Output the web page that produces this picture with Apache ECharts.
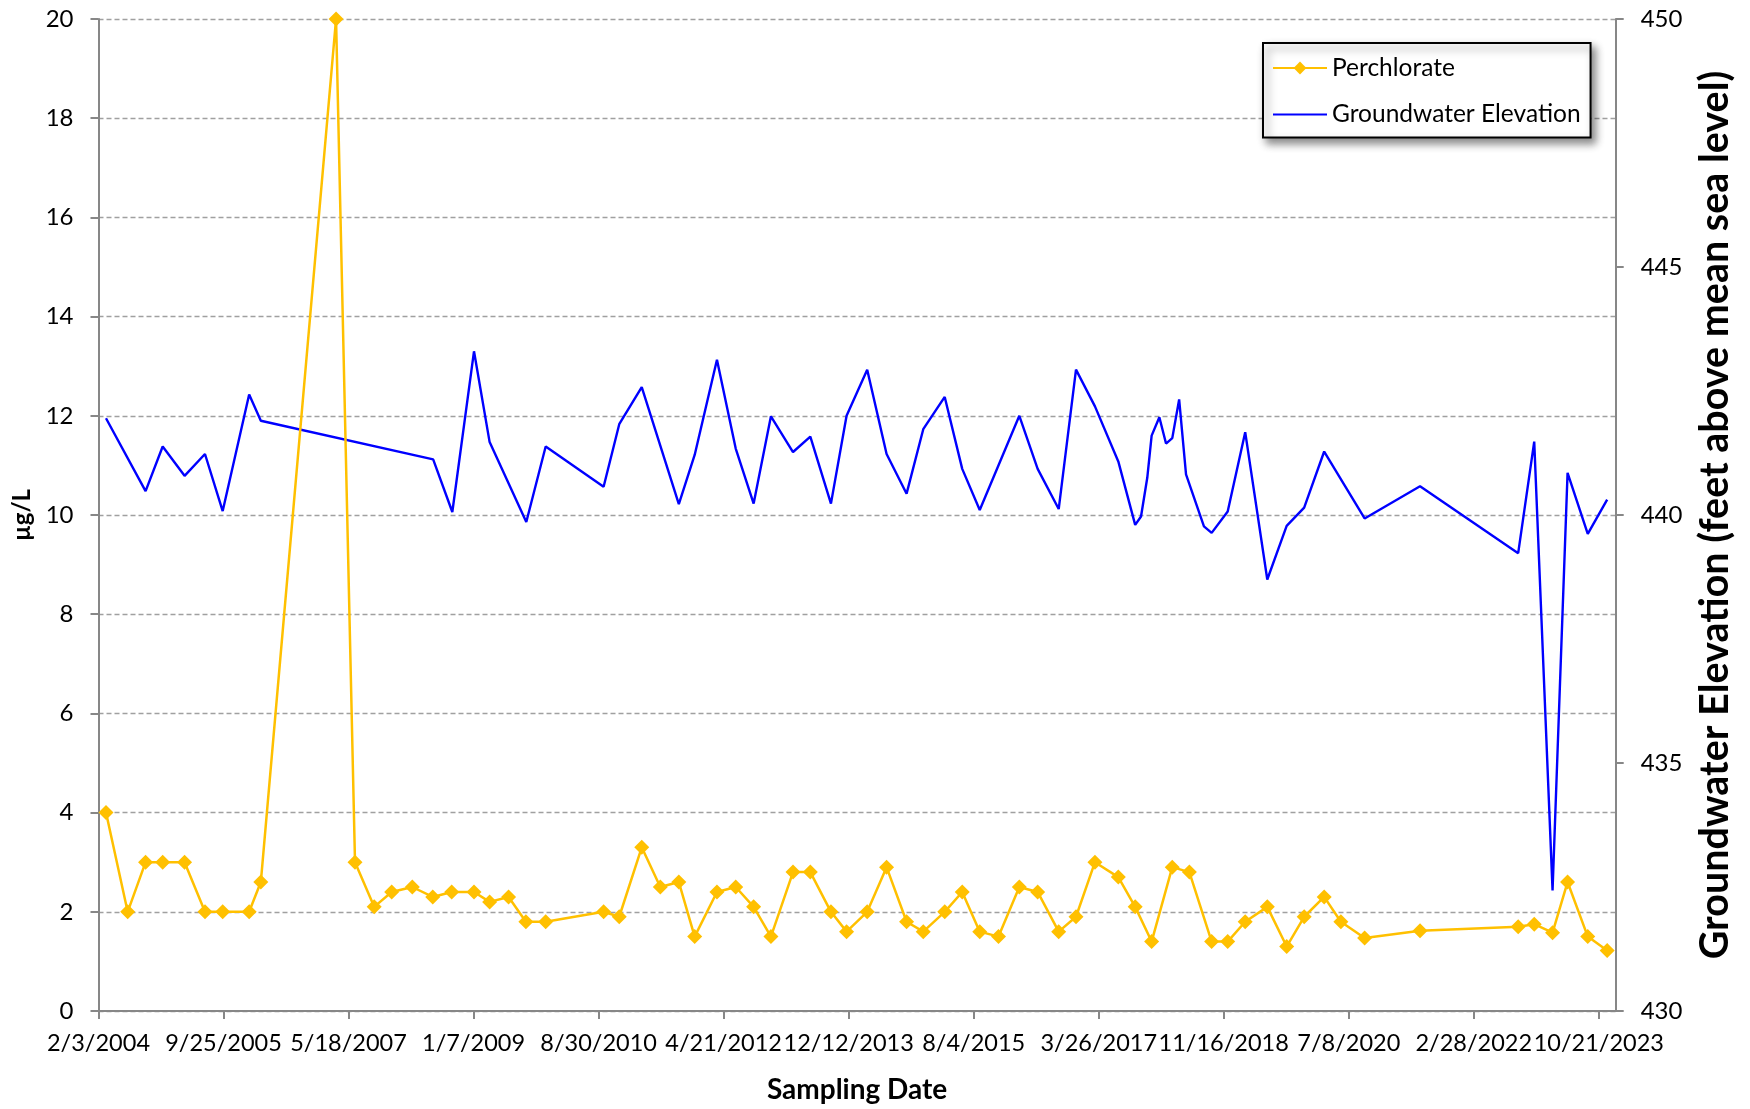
<!DOCTYPE html>
<html>
<head>
<meta charset="utf-8">
<script src="https://cdn.jsdelivr.net/npm/echarts@6/dist/echarts.min.js"></script>
<style>
  html, body { margin: 0; padding: 0; background: #ffffff; }
  #chart { width: 1750px; height: 1109px; }
</style>
</head>
<body>
<div id="chart"></div>
<script>
// Perchlorate sampling results (µg/L)
const perchlorateDates = [
  '2004-03-10','2004-06-22','2004-09-16','2004-12-07','2005-03-22','2005-06-28','2005-09-21','2006-01-26','2006-03-23','2007-03-19',
  '2007-06-18','2007-09-18','2007-12-11','2008-03-19','2008-06-25','2008-09-24','2009-01-09','2009-03-25','2009-06-24','2009-09-15',
  '2009-12-19','2010-09-23','2010-12-07','2011-03-25','2011-06-22','2011-09-19','2011-12-04','2012-03-20','2012-06-18','2012-09-12',
  '2012-12-04','2013-03-20','2013-06-11','2013-09-18','2013-12-02','2014-03-11','2014-06-12','2014-09-16','2014-12-05','2015-03-18',
  '2015-06-10','2015-09-02','2015-12-01','2016-03-10','2016-06-06','2016-09-15','2016-12-07','2017-03-08','2017-06-28','2017-09-17',
  '2017-12-05','2018-03-14','2018-06-04','2018-09-19','2018-12-05','2019-02-27','2019-06-13','2019-09-14','2019-12-07','2020-03-12',
  '2020-05-31','2020-09-22','2021-06-15','2022-09-29','2022-12-15','2023-03-13','2023-05-24','2023-08-29','2023-11-30'
];
const perchlorateValues = [
  4.0, 2.0, 3.0, 3.0, 3.0, 2.0, 2.0, 2.0, 2.6, 20,
  3.0, 2.1, 2.4, 2.5, 2.3, 2.4, 2.4, 2.2, 2.3, 1.8,
  1.8, 2.0, 1.9, 3.3, 2.5, 2.6, 1.5, 2.4, 2.5, 2.1,
  1.5, 2.8, 2.8, 2.0, 1.6, 2.0, 2.9, 1.8, 1.6, 2.0,
  2.4, 1.6, 1.5, 2.5, 2.4, 1.6, 1.9, 3.0, 2.7, 2.1,
  1.4, 2.9, 2.8, 1.4, 1.4, 1.8, 2.1, 1.3, 1.9, 2.3,
  1.8, 1.47, 1.62, 1.7, 1.75, 1.58, 2.6, 1.5, 1.22
];

// Groundwater elevation (feet above mean sea level)
const elevationDates = [
  '2004-03-10','2004-09-16','2004-12-07','2005-03-22','2005-06-28','2005-09-21','2006-01-26','2006-03-23','2008-06-27','2008-09-27',
  '2009-01-09','2009-03-25','2009-09-17','2009-12-19','2010-09-23','2010-12-07','2011-03-25','2011-09-19','2011-12-04','2012-03-20',
  '2012-06-18','2012-09-12','2012-12-04','2013-03-20','2013-06-11','2013-09-18','2013-12-02','2014-03-11','2014-06-12','2014-09-16',
  '2014-12-05','2015-03-18','2015-06-10','2015-09-02','2016-03-10','2016-06-06','2016-09-15','2016-12-07','2017-03-08','2017-06-28',
  '2017-09-17','2017-10-15','2017-11-14','2017-12-05','2018-01-11','2018-02-12','2018-03-14','2018-04-16','2018-05-19','2018-08-13',
  '2018-09-19','2018-12-05','2019-02-27','2019-06-13','2019-09-14','2019-12-07','2020-03-12','2020-09-22','2021-06-15','2022-09-29',
  '2022-12-15','2023-03-13','2023-05-24','2023-08-29','2023-11-30'
];
const elevationValues = [
  441.95, 440.48, 441.38, 440.79, 441.23, 440.08, 442.43, 441.90, 441.12, 440.06,
  443.30, 441.47, 439.86, 441.38, 440.57, 441.83, 442.58, 440.22, 441.21, 443.13,
  441.34, 440.23, 441.99, 441.27, 441.58, 440.23, 442.00, 442.93, 441.23, 440.43,
  441.73, 442.38, 440.93, 440.10, 442.00, 440.93, 440.12, 442.93, 442.19, 441.08,
  439.80, 439.97, 440.75, 441.60, 441.97, 441.44, 441.55, 442.33, 440.82, 439.77,
  439.64, 440.07, 441.67, 438.70, 439.78, 440.15, 441.28, 439.93, 440.58, 439.23,
  441.48, 432.43, 440.85, 439.62, 440.31
];

// Date axis: ticks every 600 days from the first day
const axisStartDate = '2004-02-03';
const axisEndDate = '2024-01-10';
const tickStepDays = 600;

const DAY_MS = 86400000;
const startMs = Date.parse(axisStartDate);
const dayOf = s => (Date.parse(s) - startMs) / DAY_MS;
const fmtDate = d => {
  const t = new Date(startMs + Math.round(d) * DAY_MS);
  return (t.getUTCMonth() + 1) + '/' + t.getUTCDate() + '/' + t.getUTCFullYear();
};
const endDay = dayOf(axisEndDate);
const tickDays = [];
for (let d = 0; d <= endDay; d += tickStepDays) tickDays.push(d);

const FONT = 'Lato';
const AXIS_GRAY = '#878787';

const chart = echarts.init(document.getElementById('chart'), null, { renderer: 'canvas' });
chart.setOption({
  animation: false,
  backgroundColor: '#ffffff',
  grid: { left: 98.5, right: 134.3, top: 19, bottom: 96, containLabel: false },
  legend: {
    orient: 'vertical',
    left: 1263, top: 43,
    padding: [11, 10, 9, 9],
    itemGap: 18.5, itemWidth: 54, itemHeight: 16,
    backgroundColor: '#ffffff',
    borderColor: '#000000', borderWidth: 2,
    shadowBlur: 8, shadowColor: 'rgba(0,0,0,0.45)', shadowOffsetX: 4, shadowOffsetY: 5,
    textStyle: { fontFamily: FONT, fontSize: 24.5, color: '#000', lineHeight: 28 },
    data: [
      { name: 'Perchlorate' },
      { name: 'Groundwater Elevation', itemStyle: { opacity: 0 } }
    ]
  },
  xAxis: {
    type: 'value',
    min: 0, max: endDay, interval: tickStepDays,
    name: 'Sampling Date', nameLocation: 'middle', nameGap: 65,
    nameTextStyle: { fontFamily: FONT, fontSize: 28, fontWeight: 'bold', color: '#000' },
    axisLine: { show: true, lineStyle: { color: AXIS_GRAY, width: 2 } },
    axisTick: { show: true, length: 8, lineStyle: { color: AXIS_GRAY, width: 2 }, customValues: tickDays },
    axisLabel: {
      fontFamily: FONT, fontSize: 23.5, color: '#000', margin: 20,
      customValues: tickDays, showMinLabel: true, showMaxLabel: true,
      formatter: v => fmtDate(v)
    },
    splitLine: { show: false }
  },
  yAxis: [
    {
      type: 'value', position: 'left',
      min: 0, max: 20, interval: 2,
      name: 'µg/L', nameLocation: 'middle', nameGap: 56, nameRotate: 90,
      nameTextStyle: { fontFamily: FONT, fontSize: 24, fontWeight: 'bold', color: '#000' },
      axisLine: { show: true, lineStyle: { color: AXIS_GRAY, width: 2 } },
      axisTick: { show: true, length: 8, lineStyle: { color: AXIS_GRAY, width: 2 } },
      axisLabel: { fontFamily: FONT, fontSize: 24, color: '#000', margin: 25 },
      splitLine: { show: true, lineStyle: { color: '#a0a0a0', width: 1.3, type: [5, 3] } }
    },
    {
      type: 'value', position: 'right',
      min: 430, max: 450, interval: 5,
      name: 'Groundwater Elevation (feet above mean sea level)', nameLocation: 'middle', nameGap: 80, nameRotate: 90,
      nameTextStyle: { fontFamily: FONT, fontSize: 39.5, fontWeight: 'bold', color: '#000' },
      axisLine: { show: true, lineStyle: { color: AXIS_GRAY, width: 2 } },
      axisTick: { show: true, length: 8, lineStyle: { color: AXIS_GRAY, width: 2 } },
      axisLabel: { fontFamily: FONT, fontSize: 24, color: '#000', margin: 25 },
      splitLine: { show: false }
    }
  ],
  series: [
    {
      name: 'Groundwater Elevation',
      type: 'line', yAxisIndex: 1, z: 2,
      data: elevationDates.map((d, i) => [dayOf(d), elevationValues[i]]),
      symbol: 'none',
      lineStyle: { color: '#0000FF', width: 2.4 },
      itemStyle: { color: '#0000FF' }
    },
    {
      name: 'Perchlorate',
      type: 'line', yAxisIndex: 0, z: 3,
      data: perchlorateDates.map((d, i) => [dayOf(d), perchlorateValues[i]]),
      symbol: 'diamond', symbolSize: 15,
      lineStyle: { color: '#FFC000', width: 2.5 },
      itemStyle: { color: '#FFC000' }
    }
  ]
});
</script>
</body>
</html>
